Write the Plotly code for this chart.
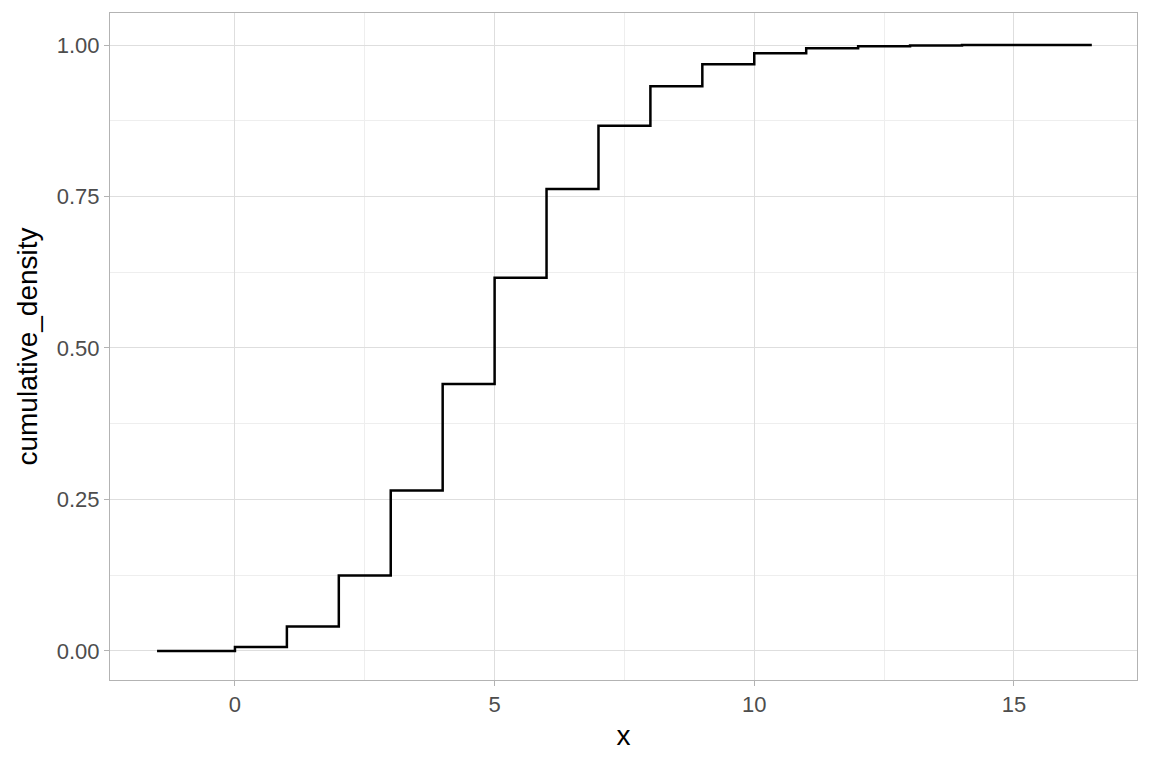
import plotly.graph_objects as go

# Dados
x_vals = [-1.5, 0, 1, 2, 3, 4, 5, 6, 7, 8, 9, 10, 11, 12, 13, 14, 15, 16, 16.5]
cum_density = [0.0, 0.0067, 0.0404, 0.1247, 0.2650, 0.4405, 0.6160, 0.7622,
               0.8666, 0.9319, 0.9682, 0.9863, 0.9945, 0.9980, 0.9993,
               0.9998, 0.9999, 1.0, 1.0]

x_ticks = [0, 5, 10, 15]
y_ticks = [0, 0.25, 0.5, 0.75, 1.0]
y_ticklabels = ["0.00", "0.25", "0.50", "0.75", "1.00"]

fig = go.Figure()

fig.add_trace(go.Scatter(
    x=x_vals, y=cum_density,
    mode='lines', line=dict(color='black', width=2.5, shape='hv'),
    showlegend=False, hoverinfo='skip'
))

axis_common = dict(
    showline=True, linecolor='#B3B3B3', linewidth=1, mirror=True,
    gridcolor='#DEDEDE', gridwidth=1, zeroline=False,
    ticks='outside', ticklen=5, tickcolor='#B3B3B3',
    tickfont=dict(size=22, color='#4D4D4D'),
)

fig.update_layout(
    width=1152, height=768,
    paper_bgcolor='white', plot_bgcolor='white',
    font=dict(family='Liberation Sans, Arial, sans-serif'),
    margin=dict(l=102, r=23, t=5, b=96),
    xaxis=dict(
        range=[-2.406, 17.37], tickvals=x_ticks,
        title=dict(text='x', font=dict(size=28, color='black'), standoff=8),
        minor=dict(tickvals=[2.5, 7.5, 12.5], showgrid=True,
                   gridcolor='#EEEEEE', gridwidth=0.6, ticks=''),
        **axis_common
    ),
    yaxis=dict(
        range=[-0.0479, 1.0528], tickvals=y_ticks, ticktext=y_ticklabels,
        title=dict(text='cumulative_density', font=dict(size=28, color='black'),
                   standoff=10),
        minor=dict(tickvals=[0.125, 0.375, 0.625, 0.875], showgrid=True,
                   gridcolor='#EEEEEE', gridwidth=0.6, ticks=''),
        **axis_common
    ),
)

fig.write_html("out.html")
